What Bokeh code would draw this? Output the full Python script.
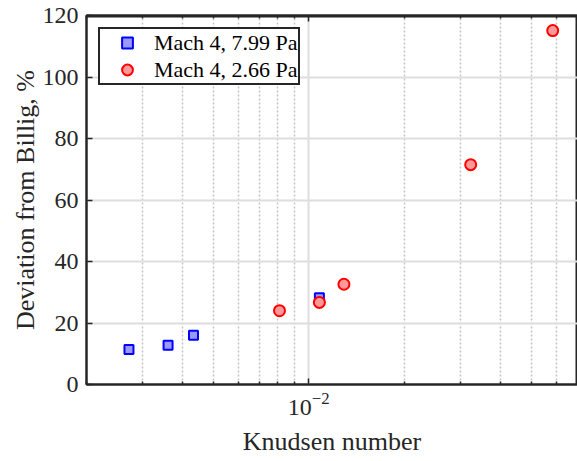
from bokeh.plotting import figure
from bokeh.models import FixedTicker, LogAxis, Legend, LegendItem, LogTickFormatter, Range1d, Span
from bokeh.embed import file_html
from bokeh.resources import INLINE

# data
kn_799 = [0.00272, 0.00361, 0.00434, 0.0108]
dev_799 = [11.4, 12.8, 16.0, 28.2]
kn_266 = [0.00809, 0.0108, 0.0129, 0.0323, 0.0585]
dev_266 = [24.0, 26.7, 32.6, 71.5, 115.1]
labels = ["Mach 4, 7.99 Pa", "Mach 4, 2.66 Pa"]

x_major = [0.01]
x_minor = [0.002, 0.003, 0.004, 0.005, 0.006, 0.007, 0.008, 0.009,
           0.02, 0.03, 0.04, 0.05, 0.06, 0.07]
y_ticks = [0, 20, 40, 60, 80, 100, 120]
y_grid = [20, 40, 60, 80, 100]
y_top = 120

FONT = "Liberation Serif"
TXT = "#262626"

p = figure(width=577, height=461, x_axis_type="log",
           x_range=Range1d(0.002, 0.07), y_range=Range1d(0, 120),
           output_backend="svg", toolbar_location=None,
           min_border_left=86, min_border_right=0, min_border_top=15,
           min_border_bottom=77)
p.outline_line_color = TXT
p.outline_line_width = 2
p.outline_line_alpha = 1
p.background_fill_color = None
p.border_fill_color = "white"

xt = FixedTicker(ticks=x_major, minor_ticks=x_minor)
p.xaxis.ticker = xt
p.xaxis.formatter = LogTickFormatter()
p.yaxis.ticker = FixedTicker(ticks=y_ticks)

for ax in (p.xaxis[0], p.yaxis[0]):
    ax.axis_line_color = TXT
    ax.axis_line_width = 2
    ax.major_tick_line_color = TXT
    ax.major_tick_line_width = 1.5
    ax.minor_tick_line_color = TXT
    ax.minor_tick_line_width = 1.5
    ax.major_tick_in = 6
    ax.major_tick_out = 0
    ax.minor_tick_in = 3
    ax.minor_tick_out = 0
    ax.major_label_text_font = FONT
    ax.major_label_text_font_size = "24px"
    ax.major_label_text_color = TXT
    ax.axis_label_text_font = FONT
    ax.axis_label_text_font_size = "26px"
    ax.axis_label_text_font_style = "normal"
    ax.axis_label_text_color = TXT

p.yaxis.minor_tick_line_color = None
p.xaxis.axis_label = "Knudsen number"
p.yaxis.axis_label = "Deviation from Billig, %"
p.xaxis.major_label_standoff = 8
p.yaxis.major_label_standoff = 8
p.xaxis.axis_label_standoff = 9
p.yaxis.axis_label_standoff = 0

top = LogAxis(ticker=xt, formatter=LogTickFormatter(),
              axis_line_color=TXT, axis_line_width=2,
              major_tick_line_color=TXT, major_tick_line_width=1.5,
              minor_tick_line_color=TXT, minor_tick_line_width=1.5,
              major_tick_in=6, major_tick_out=0, minor_tick_in=3, minor_tick_out=0,
              major_label_text_font_size="8px", major_label_text_alpha=0,
              major_label_standoff=0)
p.add_layout(top, "above")

p.add_layout(Span(location=y_top, dimension="width", line_color=TXT,
                  line_width=4, level="overlay"))

p.xgrid.grid_line_color = "#dedede"
p.xgrid.grid_line_width = 2
p.xgrid.minor_grid_line_color = "#c4c4c4"
p.xgrid.minor_grid_line_width = 1.5
p.xgrid.minor_grid_line_dash = "2 2"
p.ygrid.ticker = FixedTicker(ticks=y_grid)
p.ygrid.grid_line_color = "#dedede"
p.ygrid.grid_line_width = 2

r1 = p.scatter(kn_799, dev_799, marker="square", size=9, line_width=2,
               line_color="#0000ff", fill_color="#9999ff")
r2 = p.scatter(kn_266, dev_266, marker="circle", size=11, line_width=2,
               line_color="#ff0000", fill_color="#ff9999")

leg = Legend(items=[LegendItem(label=labels[0], renderers=[r1]),
                    LegendItem(label=labels[1], renderers=[r2])],
             location="top_left", margin=12, padding=0, spacing=-3,
             glyph_width=54, glyph_height=27, label_standoff=0,
             label_text_font=FONT, label_text_font_size="22px",
             label_text_color="black", border_line_color=TXT,
             border_line_width=2, border_line_alpha=1, background_fill_alpha=1)
p.add_layout(leg, "center")

open("out.html", "w").write(file_html(p, INLINE))
